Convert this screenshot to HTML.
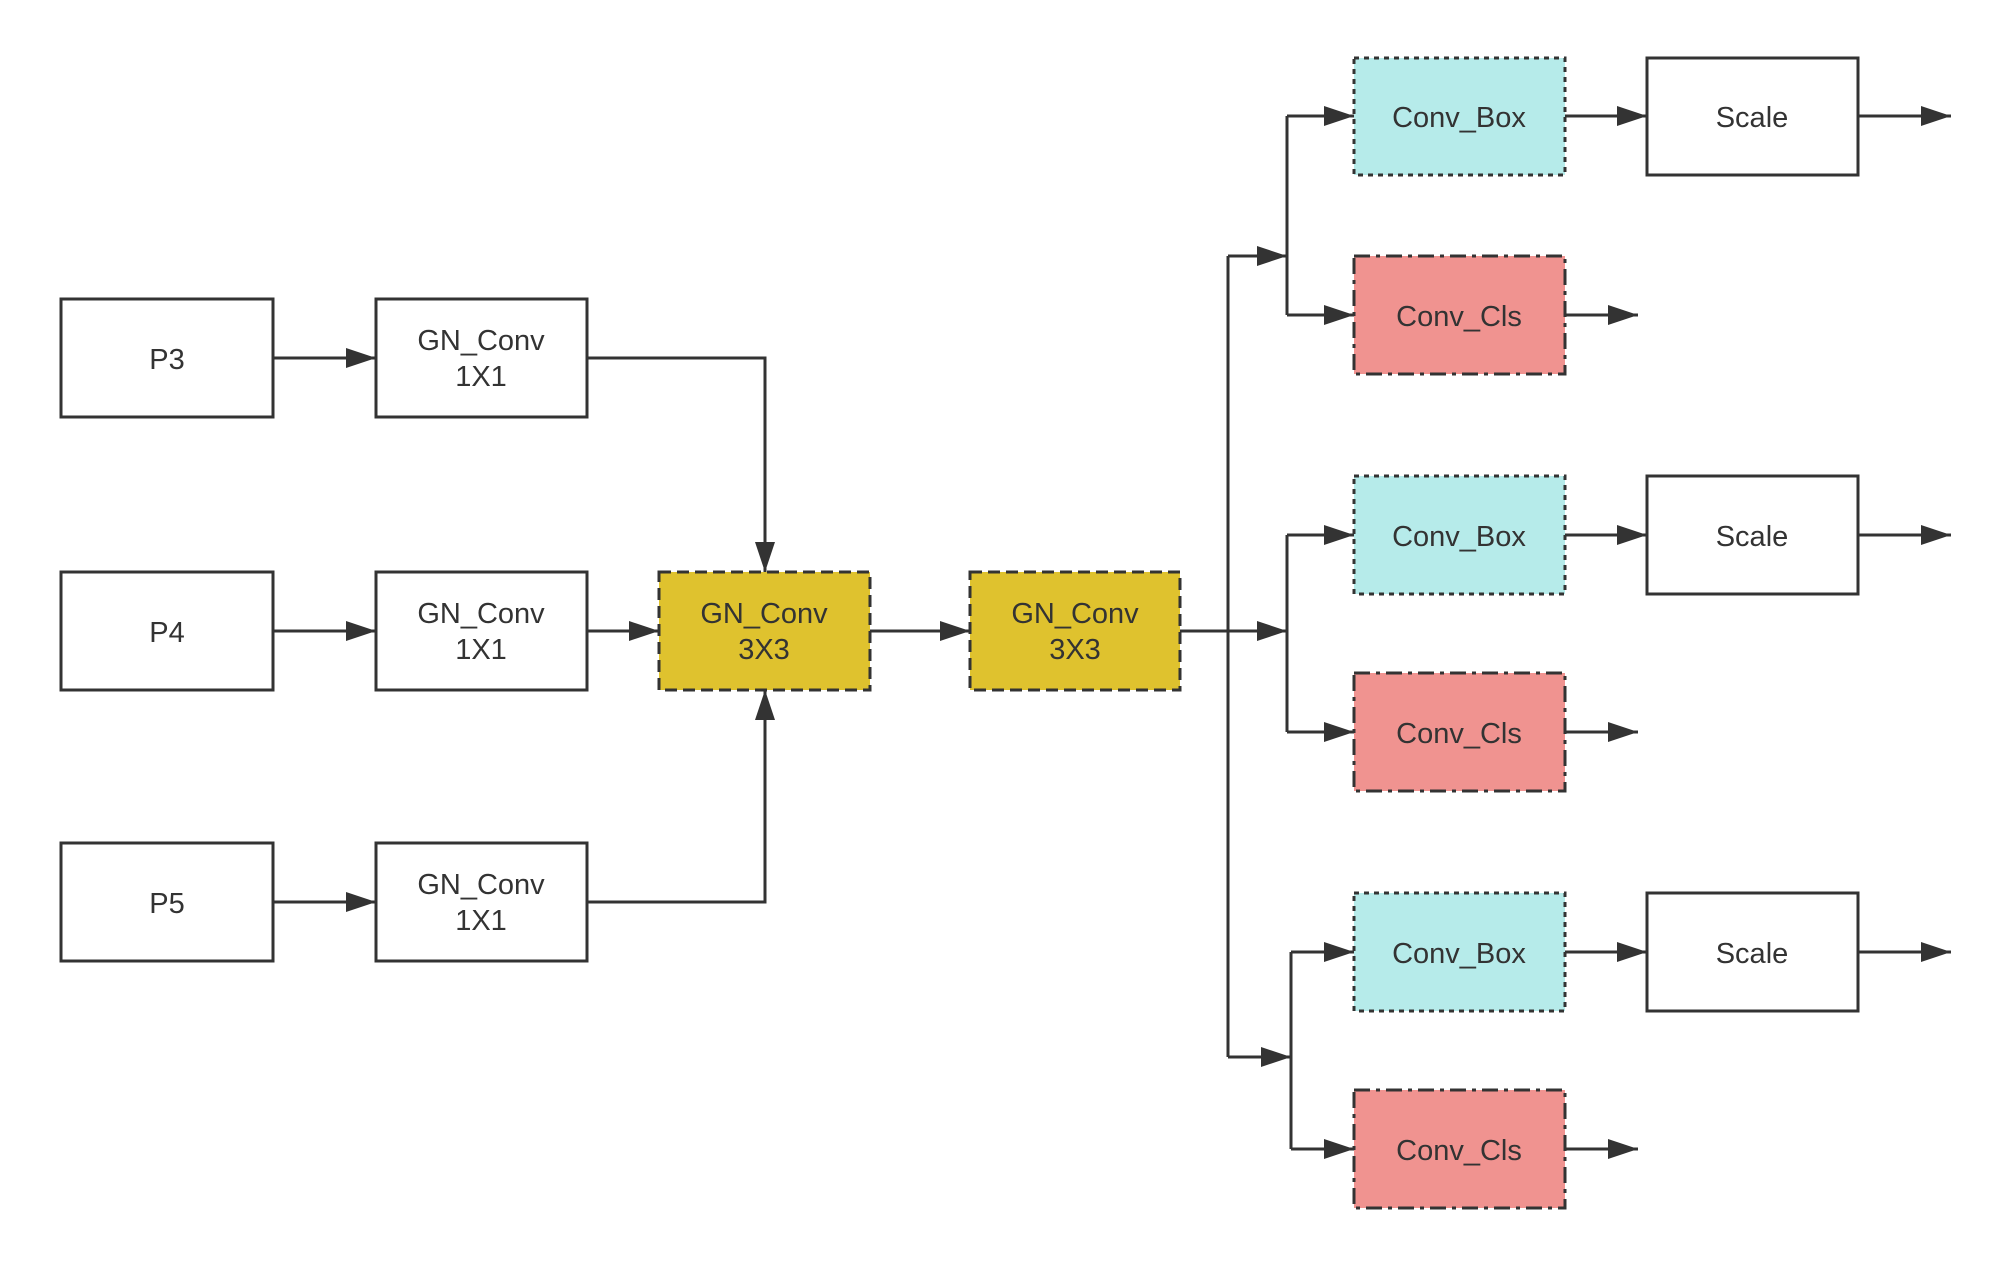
<!DOCTYPE html>
<html><head><meta charset="utf-8"><style>
html,body{margin:0;padding:0;background:#fff;}
svg{display:block;}
text{font-family:"Liberation Sans",sans-serif;font-size:29px;fill:#333;text-anchor:middle;dominant-baseline:central;}
</style></head><body>
<svg width="2000" height="1263" viewBox="0 0 2000 1263" xmlns="http://www.w3.org/2000/svg">
<defs>
<marker id="a" markerUnits="userSpaceOnUse" markerWidth="32" markerHeight="22" refX="30" refY="11" orient="auto">
<path d="M0,1 L30,11 L0,21 z" fill="#333"/>
</marker>
</defs>
<g stroke="#333" stroke-width="3" fill="#fff">
<rect x="61" y="299" width="212" height="118"/>
<rect x="61" y="572" width="212" height="118"/>
<rect x="61" y="843" width="212" height="118"/>
<rect x="376" y="299" width="211" height="118"/>
<rect x="376" y="572" width="211" height="118"/>
<rect x="376" y="843" width="211" height="118"/>
<rect x="659" y="572" width="211" height="118" fill="#DFC22E" stroke-dasharray="12 6"/>
<rect x="970" y="572" width="210" height="118" fill="#DFC22E" stroke-dasharray="12 6"/>
<rect x="1354" y="58" width="211" height="117" fill="#B6EBEA" stroke-dasharray="5 5"/>
<rect x="1354" y="256" width="211" height="118" fill="#F09390" stroke-dasharray="16 6 4 6"/>
<rect x="1354" y="476" width="211" height="118" fill="#B6EBEA" stroke-dasharray="5 5"/>
<rect x="1354" y="673" width="211" height="118" fill="#F09390" stroke-dasharray="16 6 4 6"/>
<rect x="1354" y="893" width="211" height="118" fill="#B6EBEA" stroke-dasharray="5 5"/>
<rect x="1354" y="1090" width="211" height="118" fill="#F09390" stroke-dasharray="16 6 4 6"/>
<rect x="1647" y="58" width="211" height="117"/>
<rect x="1647" y="476" width="211" height="118"/>
<rect x="1647" y="893" width="211" height="118"/>
</g>
<g stroke="#333" stroke-width="3" fill="none">
<path d="M273,358 H376" marker-end="url(#a)"/>
<path d="M273,631 H376" marker-end="url(#a)"/>
<path d="M273,902 H376" marker-end="url(#a)"/>
<path d="M587,358 H765 V572" marker-end="url(#a)"/>
<path d="M587,631 H659" marker-end="url(#a)"/>
<path d="M587,902 H765 V690" marker-end="url(#a)"/>
<path d="M870,631 H970" marker-end="url(#a)"/>
<path d="M1180,631 H1287" marker-end="url(#a)"/>
<path d="M1228,256 V1057"/>
<path d="M1228,256 H1287" marker-end="url(#a)"/>
<path d="M1228,1057 H1291" marker-end="url(#a)"/>
<path d="M1287,116 V315"/>
<path d="M1287,535 V732"/>
<path d="M1291,952 V1149"/>
<path d="M1287,116 H1354" marker-end="url(#a)"/>
<path d="M1287,315 H1354" marker-end="url(#a)"/>
<path d="M1287,535 H1354" marker-end="url(#a)"/>
<path d="M1287,732 H1354" marker-end="url(#a)"/>
<path d="M1291,952 H1354" marker-end="url(#a)"/>
<path d="M1291,1149 H1354" marker-end="url(#a)"/>
<path d="M1565,116 H1647" marker-end="url(#a)"/>
<path d="M1565,535 H1647" marker-end="url(#a)"/>
<path d="M1565,952 H1647" marker-end="url(#a)"/>
<path d="M1565,315 H1638" marker-end="url(#a)"/>
<path d="M1565,732 H1638" marker-end="url(#a)"/>
<path d="M1565,1149 H1638" marker-end="url(#a)"/>
<path d="M1858,116 H1951" marker-end="url(#a)"/>
<path d="M1858,535 H1951" marker-end="url(#a)"/>
<path d="M1858,952 H1951" marker-end="url(#a)"/>
</g>
<text x="167" y="360">P3</text>
<text x="167" y="633">P4</text>
<text x="167" y="904">P5</text>
<text x="481" y="341">GN_Conv</text><text x="481" y="377">1X1</text>
<text x="481" y="614">GN_Conv</text><text x="481" y="650">1X1</text>
<text x="481" y="885">GN_Conv</text><text x="481" y="921">1X1</text>
<text x="764" y="614">GN_Conv</text><text x="764" y="650">3X3</text>
<text x="1075" y="614">GN_Conv</text><text x="1075" y="650">3X3</text>
<text x="1459" y="118">Conv_Box</text>
<text x="1459" y="317">Conv_Cls</text>
<text x="1459" y="537">Conv_Box</text>
<text x="1459" y="734">Conv_Cls</text>
<text x="1459" y="954">Conv_Box</text>
<text x="1459" y="1151">Conv_Cls</text>
<text x="1752" y="118">Scale</text>
<text x="1752" y="537">Scale</text>
<text x="1752" y="954">Scale</text>
</svg>
</body></html>
